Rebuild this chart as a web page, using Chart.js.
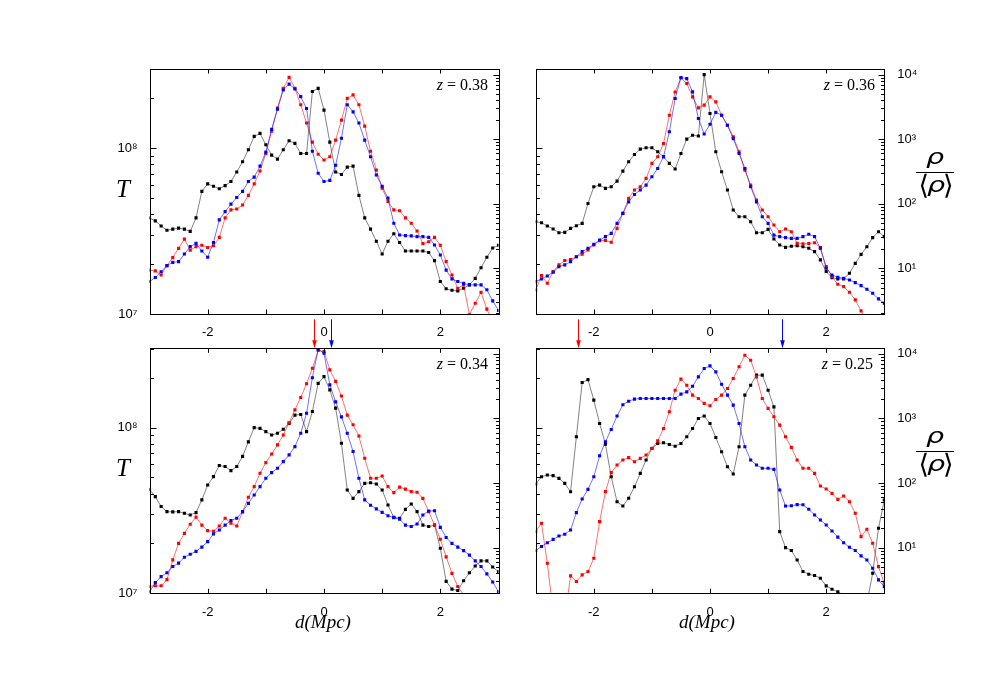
<!DOCTYPE html>
<html>
<head>
<meta charset="utf-8">
<script src="https://cdn.jsdelivr.net/npm/chart.js@4.4.0/dist/chart.umd.min.js"></script>
<style>
  body { margin: 0; background: #fff; }
  #page { position: relative; width: 997px; height: 698px; overflow: hidden; background: #fff; }
  canvas { position: absolute; }
  .lbl { position: absolute; color: #000; white-space: nowrap; font-family: 'Liberation Serif', serif; }
  .zlab { font-size: 16px; line-height: 16px; }
  .tlab { font-size: 25px; line-height: 25px; font-style: italic; }
  .dlab { font-size: 19px; line-height: 19px; font-style: italic; width: 100px; text-align: center; }
  .frac { position: absolute; width: 40px; text-align: center; color: #000; white-space: nowrap;
          font-family: 'DejaVu Sans', sans-serif; font-style: italic; font-size: 22px; line-height: 22px; }
  .fbar { position: absolute; width: 38px; height: 1.3px; background: #000; }
  .rho { display: inline-block; transform: scale(1.3, 0.95); }
  .ang { font-style: normal; font-size: 27px; line-height: 0; vertical-align: -2px; }
</style>
</head>
<body>
<div id="page">
  <canvas id="c038" width="450" height="300" style="left:60px;top:40px"></canvas>
  <canvas id="c036" width="445" height="300" style="left:505px;top:40px"></canvas>
  <canvas id="c034" width="450" height="330" style="left:60px;top:312px"></canvas>
  <canvas id="c025" width="445" height="330" style="left:505px;top:312px"></canvas>

  <div class="lbl zlab" style="right:509px;top:76.6px"><i>z</i> = 0.38</div>
  <div class="lbl zlab" style="right:122px;top:76.6px"><i>z</i> = 0.36</div>
  <div class="lbl zlab" style="right:509px;top:355.6px"><i>z</i> = 0.34</div>
  <div class="lbl zlab" style="right:124px;top:355.6px"><i>z</i> = 0.25</div>

  <div class="lbl tlab" style="left:116px;top:176px">T</div>
  <div class="lbl tlab" style="left:116px;top:455px">T</div>

  <div class="lbl dlab" style="left:273px;top:612px">d(Mpc)</div>
  <div class="lbl dlab" style="left:657px;top:612px">d(Mpc)</div>

  <div class="frac" style="left:915px;top:146px"><span class="rho">ρ</span></div>
  <div class="fbar" style="left:916px;top:172px"></div>
  <div class="frac" style="left:916px;top:174px"><span class="ang">⟨</span><span class="rho">ρ</span><span class="ang">⟩</span></div>

  <div class="frac" style="left:915px;top:425px"><span class="rho">ρ</span></div>
  <div class="fbar" style="left:916px;top:451px"></div>
  <div class="frac" style="left:916px;top:453px"><span class="ang">⟨</span><span class="rho">ρ</span><span class="ang">⟩</span></div>
</div>
<script>
// distance along the line of sight, Mpc
const dist = [-3.0,-2.9,-2.8,-2.7,-2.6,-2.5,-2.4,-2.3,-2.2,-2.1,
  -2.0,-1.9,-1.8,-1.7,-1.6,-1.5,-1.4,-1.3,-1.2,-1.1,
  -1.0,-0.9,-0.8,-0.7,-0.6,-0.5,-0.4,-0.3,-0.2,-0.1,
  0.0,0.1,0.2,0.3,0.4,0.5,0.6,0.7,0.8,0.9,
  1.0,1.1,1.2,1.3,1.4,1.5,1.6,1.7,1.8,1.9,
  2.0,2.1,2.2,2.3,2.4,2.5,2.6,2.7,2.8,2.9,3.0];

const dTicks = [-2, 0, 2];
const dTickMarks = [-2, -1, 0, 1, 2];
const tTicks = [1e7, 1e8];
const rhoTicks = [1e1, 1e2, 1e3, 1e4];
const tRange = [1e7, 3.01e8];
const rhoRange = [1.96, 1.22e4];

// z = 0.38, temperature
const tBlack038 = [3.8e7,3.65e7,3.4e7,3.2e7,3.25e7,3.3e7,3.25e7,3.15e7,3.8e7,5.5e7,
  6.1e7,5.9e7,5.7e7,5.95e7,6.3e7,7.2e7,8.3e7,9.8e7,1.18e8,1.23e8,
  1.05e8,9.1e7,8.6e7,9.8e7,1.11e8,1.07e8,9.3e7,9.3e7,2.2e8,2.3e8,
  1.7e8,1.09e8,7.2e7,6.95e7,7.7e7,7.8e7,5.2e7,3.8e7,3.25e7,2.75e7,
  2.3e7,2.75e7,3.05e7,2.7e7,2.4e7,2.4e7,2.4e7,2.4e7,2.35e7,2.1e7,
  1.57e7,1.42e7,1.39e7,1.38e7,1.43e7,1.5e7,1.64e7,1.9e7,2.2e7,2.5e7,2.6e7];
const tRed038 = [1.84e7,1.82e7,1.72e7,1.96e7,2.19e7,2.49e7,2.83e7,2.43e7,2.55e7,2.6e7,
  2.52e7,2.58e7,2.9e7,3.8e7,4.25e7,4.3e7,4.55e7,5.2e7,6.1e7,7.3e7,
  9.3e7,1.27e8,1.75e8,2.3e8,2.68e8,2.3e8,1.83e8,1.42e8,1.09e8,9.2e7,
  8.5e7,8.9e7,1.12e8,1.48e8,2.0e8,2.1e8,1.83e8,1.36e8,9.6e7,7.4e7,
  5.75e7,4.77e7,4.25e7,4.2e7,3.8e7,3.53e7,3.17e7,2.66e7,2.73e7,2.9e7,
  2.6e7,2.07e7,1.72e7,1.43e7,1.5e7,9.9e6,1.16e7,1.35e7,1.07e7,9e6,8.2e6];
const tBlue038 = [1.57e7,1.66e7,1.8e7,1.96e7,2.05e7,2.07e7,2.3e7,2.55e7,2.67e7,2.4e7,
  2.2e7,2.7e7,3.7e7,4.15e7,4.6e7,5.05e7,5.5e7,6.3e7,6.7e7,7.8e7,
  9.5e7,1.3e8,1.72e8,2.25e8,2.44e8,2.28e8,2.05e8,1.74e8,9.6e7,7.07e7,
  6.3e7,6.4e7,7.9e7,1.15e8,1.83e8,1.66e8,1.42e8,1.12e8,8.9e7,6.9e7,
  5.9e7,5.0e7,3.53e7,3.0e7,2.97e7,2.96e7,2.93e7,2.93e7,2.9e7,2.61e7,
  2.27e7,1.84e7,1.63e7,1.57e7,1.53e7,1.5e7,1.5e7,1.5e7,1.4e7,1.2e7,1.05e7];

// z = 0.36, overdensity
const rhoBlack036 = [52.7,50.8,45.2,40.6,35.6,36,41.6,45.7,49.7,101,
  183,194,173,183,224,320,446,579,700,735,
  735,637,533,421,345,600,1000,1150,1120,10000,
  2500,637,313,163,80,63,63,52.7,35.6,35.6,
  40,28.4,22.9,21.1,21.9,22.4,21.6,20.4,18.1,13.5,
  8.9,7.17,6.84,6.84,8.37,11.9,16.4,21.6,29.8,36.9,30.9];
const rhoRed036 = [4.62,7.7,5.87,8.88,11.3,13.2,13.6,15.1,16.5,19.2,
  22.9,26.8,27.1,25.3,41.6,70.8,121,163,183,247,
  421,533,857,2350,5370,8870,7260,4520,3050,3360,
  4520,3780,2350,1640,1090,637,331,194,114,80,
  63,46.8,36.9,40.6,36.9,24.4,24,24.1,24.9,20.9,
  10.6,7.43,5.66,5.2,4.25,3.24,2.19,1.5,1.2,1.0,0.9];
const rhoBlue036 = [6.22,6.84,7.6,8.67,10.6,11.3,12.7,15.1,18.1,20.4,
  23.5,27.4,30.9,34.8,49.7,70.8,107,139,163,194,
  262,352,533,1300,4260,9000,8670,5390,2090,1200,
  1700,2600,2350,1640,1020,600,352,183,107,63,
  49.7,32.7,30.9,29.8,29.1,29.1,30.9,33.6,30.9,20.4,
  10,7.89,7.26,7.0,6.6,6.0,5.39,4.73,4.1,3.36,2.88];

// z = 0.34, temperature
const tBlack034 = [4.24e7,3.83e7,3.34e7,3.11e7,3.1e7,3.11e7,3.04e7,2.97e7,3.07e7,3.66e7,
  4.5e7,5.06e7,5.9e7,5.82e7,5.5e7,5.82e7,6.7e7,8.2e7,1.0e8,9.9e7,
  9.46e7,9.03e7,9.24e7,9.77e7,1.06e8,1.19e8,1.2e8,9.46e7,1.25e8,1.85e8,
  2.03e8,1.69e8,1.31e8,8.04e7,4.2e7,3.74e7,4.11e7,4.61e7,4.65e7,4.57e7,
  4.2e7,3.41e7,2.87e7,2.84e7,3.21e7,3.46e7,3.11e7,2.58e7,2.53e7,2.58e7,
  1.87e7,1.18e7,1.06e7,1.04e7,1.19e7,1.33e7,1.46e7,1.57e7,1.57e7,1.44e7,1.35e7];
const tRed034 = [1.1e7,1.11e7,1.11e7,1.21e7,1.59e7,2.0e7,2.3e7,2.61e7,2.88e7,2.58e7,
  2.39e7,2.37e7,2.55e7,2.84e7,2.65e7,2.55e7,3.1e7,3.8e7,4.4e7,5.3e7,
  6.15e7,6.93e7,7.86e7,9.03e7,1.07e8,1.28e8,1.52e8,1.84e8,2.28e8,2.92e8,
  2.88e8,2.23e8,1.9e8,1.55e8,1.19e8,1.04e8,8.9e7,6.53e7,4.95e7,4.95e7,
  5.1e7,4.4e7,4.05e7,4.37e7,4.25e7,4.11e7,4.07e7,3.74e7,3.11e7,2.58e7,
  2.12e7,1.66e7,1.32e7,1.1e7,9.8e6,9e6,8.5e6,8e6,7.5e6,7e6,6.5e6];
const tBlue034 = [1.02e7,1.16e7,1.26e7,1.33e7,1.45e7,1.52e7,1.65e7,1.72e7,1.79e7,1.9e7,
  2.05e7,2.28e7,2.41e7,2.58e7,2.75e7,2.84e7,3.11e7,3.49e7,3.92e7,4.4e7,
  4.95e7,5.35e7,5.68e7,6.23e7,6.84e7,7.68e7,9.24e7,1.22e8,2.0e8,2.97e8,
  2.81e8,1.81e8,1.43e8,1.16e8,9.24e7,7.17e7,4.95e7,3.66e7,3.4e7,3.23e7,
  3.08e7,2.94e7,2.86e7,2.8e7,2.58e7,2.53e7,2.62e7,2.97e7,3.14e7,3.15e7,
  2.5e7,2.17e7,2.0e7,1.9e7,1.81e7,1.7e7,1.57e7,1.45e7,1.31e7,1.17e7,1.02e7];

// z = 0.25, overdensity
const rhoBlack025 = [96.6,125,133,130,118,98.8,73.4,520,3600,4000,
  1920,837,401,125,51.4,44,58,87.7,141,227,
  343,410,420,395,372,410,520,700,1000,1090,
  837,508,305,179,138,365,2300,3270,4680,4680,
  2740,1510,17.7,10,9.0,6.44,4.26,3.87,3.69,3.36,
  2.55,2.27,2.06,1.86,1.55,1.38,1.22,1.38,4.0,19.9,54.6];
const rhoRed025 = [17.7,23.8,5.73,1.0,0.8,0.8,3.65,2.98,3.78,4.26,
  6.84,25.2,73.5,145,190,227,247,214,241,271,
  344,450,700,1270,2740,4060,3270,2300,2040,1710,
  1570,1970,2300,2910,4160,6310,9530,7980,4400,2040,
  1430,1060,789,520,356,227,169,169,141,89.9,
  80.8,69.2,55.9,62.9,51.4,34,14.8,19.2,11.7,5.08,2.8];
const rhoBlue025 = [9.0,10.4,11.9,13.4,15.1,16.1,18.7,34.8,56.6,79.8,
  125,265,436,676,1090,1630,1850,1990,2040,2040,
  2040,2040,2040,2040,2040,2380,2580,3160,4400,5930,
  6520,5270,3390,2300,1610,837,365,227,190,169,
  169,163,78,44.1,44.4,46.2,46,39.2,32,26.8,
  22.4,18.1,14.5,11.9,10.1,9.0,7.43,6.44,4.79,3.16,2.49];

// marked positions (red, blue)
const arrows034 = [-0.17, 0.12];
const arrows025 = [-2.27, 1.24];

const RED = '#ff0000', BLUE = '#0000ff', BLACK = '#000000';

Chart.defaults.font.family = "'Liberation Sans', Arial, sans-serif";
Chart.defaults.font.size = 13;
Chart.defaults.color = '#000';

const supDigits = '⁰¹²³⁴⁵⁶⁷⁸⁹';
function powLabel(v) {
  const e = Math.round(Math.log10(v));
  return '10' + String(e).split('').map(c => supDigits[+c]).join('');
}

function seg(ctx, x1, y1, x2, y2) {
  ctx.beginPath(); ctx.moveTo(x1, y1); ctx.lineTo(x2, y2); ctx.stroke();
}

function logMarks(ctx, scale, x0, dir) {
  const lo = Math.floor(Math.log10(scale.min)), hi = Math.ceil(Math.log10(scale.max));
  for (let e = lo; e <= hi; e++) {
    for (let m = 1; m <= 9; m++) {
      const v = m * Math.pow(10, e);
      if (v < scale.min || v > scale.max) continue;
      const py = Math.round(scale.getPixelForValue(v)) + 0.5;
      seg(ctx, x0, py, x0 + dir * (m === 1 ? 6 : 3.5), py);
    }
  }
}

// box, inward ticks and arrows
const frame = {
  id: 'frame',
  afterDatasetsDraw(chart, args, opts) {
    const { ctx, chartArea: a, scales } = chart;
    ctx.save();
    ctx.strokeStyle = '#000';
    ctx.lineWidth = 1;
    ctx.strokeRect(Math.round(a.left) + 0.5, Math.round(a.top) + 0.5,
      Math.round(a.right) - Math.round(a.left), Math.round(a.bottom) - Math.round(a.top));
    dTickMarks.forEach(v => {
      const px = Math.round(scales.x.getPixelForValue(v)) + 0.5;
      seg(ctx, px, a.bottom, px, a.bottom - 4.5);
      seg(ctx, px, a.top, px, a.top + 4.5);
    });
    logMarks(ctx, scales.yT, Math.round(a.left) + 0.5, 1);
    logMarks(ctx, scales.yR, Math.round(a.right) + 0.5, -1);

    const arr = opts.arrows || [];
    [RED, BLUE].forEach((col, k) => {
      if (arr[k] === undefined) return;
      const px = Math.round(scales.x.getPixelForValue(arr[k])) + 0.5;
      ctx.strokeStyle = col;
      ctx.fillStyle = col;
      seg(ctx, px, a.top - 29, px, a.top - 6);
      ctx.beginPath();
      ctx.moveTo(px - 2.3, a.top - 8);
      ctx.lineTo(px + 2.3, a.top - 8);
      ctx.lineTo(px, a.top);
      ctx.closePath();
      ctx.fill();
    });
    ctx.restore();
  }
};

function makePanel(id, box, plot, series, axisId, labelSide, arrows) {
  const leftW = plot.l - box.left;
  const rightW = box.left + box.w - plot.r;
  const padTop = plot.t - box.top;
  const bottomH = box.top + box.h - plot.b;

  const datasets = series.map(s => ({
    data: dist.map((d, i) => ({ x: d, y: s.values[i] })),
    yAxisID: axisId,
    borderColor: s.line,
    borderWidth: 0.8,
    pointStyle: 'rect',
    pointRadius: 2.2,
    pointBackgroundColor: s.color,
    pointBorderColor: s.color,
    pointBorderWidth: 0,
    tension: 0,
    fill: false
  }));

  new Chart(document.getElementById(id), {
    type: 'line',
    data: { datasets },
    options: {
      responsive: false,
      animation: false,
      devicePixelRatio: 1,
      layout: { padding: { top: padTop, left: 0, right: 0, bottom: 0 } },
      plugins: { legend: { display: false }, tooltip: { enabled: false }, frame: { arrows } },
      scales: {
        x: {
          type: 'linear', min: -3, max: 3,
          afterBuildTicks: s => { s.ticks = dTicks.map(v => ({ value: v })); },
          ticks: { padding: 3, maxRotation: 0, callback: v => String(v) },
          grid: { display: false }, border: { display: false },
          afterFit: s => { s.height = bottomH; }
        },
        yT: {
          type: 'logarithmic', position: 'left', min: tRange[0], max: tRange[1],
          afterBuildTicks: s => { s.ticks = tTicks.map(v => ({ value: v })); },
          ticks: { display: labelSide === 'left', padding: 4, callback: v => powLabel(v) },
          grid: { display: false }, border: { display: false },
          afterFit: s => { s.width = leftW; }
        },
        yR: {
          type: 'logarithmic', position: 'right', min: rhoRange[0], max: rhoRange[1],
          afterBuildTicks: s => { s.ticks = rhoTicks.map(v => ({ value: v })); },
          ticks: { display: labelSide === 'right', padding: 5, callback: v => powLabel(v) },
          grid: { display: false }, border: { display: false },
          afterFit: s => { s.width = rightW; }
        }
      }
    },
    plugins: [frame]
  });
}

function trio(black, red, blue) {
  return [
    { values: blue, color: BLUE, line: 'rgba(0,0,255,0.7)' },
    { values: red, color: RED, line: 'rgba(255,0,0,0.7)' },
    { values: black, color: BLACK, line: 'rgba(60,60,60,0.8)' }
  ];
}

makePanel('c038', { left: 60, top: 40, w: 450, h: 300 }, { l: 149.5, r: 498.5, t: 69, b: 314 },
  trio(tBlack038, tRed038, tBlue038), 'yT', 'left', []);
makePanel('c036', { left: 505, top: 40, w: 445, h: 300 }, { l: 535.7, r: 884.3, t: 69, b: 314 },
  trio(rhoBlack036, rhoRed036, rhoBlue036), 'yR', 'right', []);
makePanel('c034', { left: 60, top: 312, w: 450, h: 330 }, { l: 149.5, r: 498.5, t: 348.3, b: 593.3 },
  trio(tBlack034, tRed034, tBlue034), 'yT', 'left', arrows034);
makePanel('c025', { left: 505, top: 312, w: 445, h: 330 }, { l: 535.7, r: 884.3, t: 348.3, b: 593.3 },
  trio(rhoBlack025, rhoRed025, rhoBlue025), 'yR', 'right', arrows025);
</script>
</body>
</html>
